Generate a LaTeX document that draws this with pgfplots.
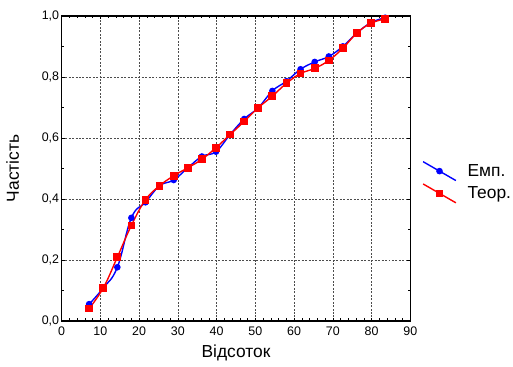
\documentclass[border=0pt]{standalone}
\usepackage{fontspec}
\setmainfont{Liberation Sans}
\usepackage{pgfplots}
\pgfplotsset{compat=1.18}
\begin{document}
\begin{tikzpicture}[x=1pt,y=1pt]
\path (0,0) rectangle (513,369);
\begin{axis}[
  at={(62pt,46pt)}, anchor=south west,
  scale only axis, width=351pt, height=307pt,
  xmin=0, xmax=90, ymin=0, ymax=1,
  xtick={0,10,...,90}, ytick={0,0.2,...,1.0},
  minor x tick num=4, minor y tick num=1,
  tick align=inside,
  major tick length=3pt, minor tick length=2.5pt,
  every tick/.style={black, line width=0.7pt},
  axis line style={line width=1.5pt},
  grid=major,
  major grid style={black!70, line width=0.5pt, dash pattern=on 2pt off 1.5pt},
  /pgf/number format/assume math mode=true,
  yticklabel style={xshift=1pt, /pgf/number format/use comma, /pgf/number format/fixed, /pgf/number format/fixed zerofill, /pgf/number format/precision=1},
  xticklabel style={yshift=-2pt, /pgf/number format/fixed, /pgf/number format/precision=0},
  tick label style={font=\fontsize{12.5}{13}\selectfont},
  xlabel={Відсоток}, ylabel={Частість},
  label style={font=\fontsize{17.5}{19}\selectfont},
  xlabel style={at={(axis description cs:0.5,-0.104)}, anchor=center},
  ylabel style={at={(axis description cs:-0.14,0.5)}, anchor=center},
  legend style={at={(1.034,0.525)}, anchor=north west, draw=none, fill=none,
    font=\fontsize{17.5}{19}\selectfont, row sep=2pt, inner sep=0pt,
    /tikz/every odd column/.append style={column sep=9pt}},
  legend cell align=left,
  legend image code/.code={\draw[mark repeat=2,mark phase=2,#1] plot coordinates {(0pt,9.5pt) (16.5pt,0pt) (33pt,-9.5pt)};},
]
\addplot[blue, line width=1.4pt, smooth, tension=0.7, mark=*, mark size=2.6pt, mark options={solid}] coordinates {
(7.1,0.055) (10.74,0.108) (14.38,0.176) (18.01,0.338) (21.65,0.389) (25.29,0.443)
(28.93,0.462) (32.57,0.502) (36.20,0.539) (39.84,0.555) (43.48,0.611) (47.12,0.662)
(50.76,0.699) (54.39,0.754) (58.03,0.786) (61.67,0.825) (65.31,0.849) (68.95,0.867)
(72.58,0.900) (76.22,0.944) (79.86,0.978) (83.5,0.994)};
\addlegendentry{Емп.}
\addplot[red, line width=1.4pt, smooth, tension=0.7, mark=square*, mark size=3.2pt, mark options={solid}] coordinates {
(7.1,0.041) (10.74,0.108) (14.38,0.209) (18.01,0.313) (21.65,0.397) (25.29,0.443)
(28.93,0.476) (32.57,0.502) (36.20,0.530) (39.84,0.568) (43.48,0.611) (47.12,0.654)
(50.76,0.699) (54.39,0.737) (58.03,0.779) (61.67,0.811) (65.31,0.828) (68.95,0.854)
(72.58,0.894) (76.22,0.944) (79.86,0.976) (83.5,0.990)};
\addlegendentry{Теор.}
\end{axis}
\end{tikzpicture}
\end{document}
